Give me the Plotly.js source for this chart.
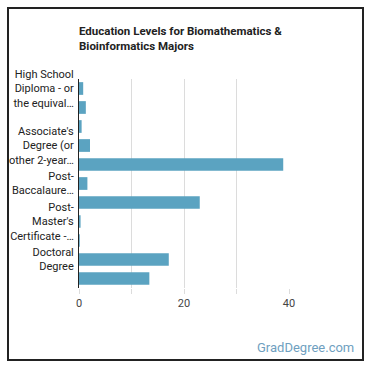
<!DOCTYPE html>
<html>
<head>
<meta charset="utf-8">
<script src="https://cdn.plot.ly/plotly-3.0.1.min.js"></script>
<style>
  html, body { margin: 0; padding: 0; background: #fff; }
  #frame { position: absolute; left: 7px; top: 7px; width: 353px; height: 350px; border: 2px solid #222; box-sizing: content-box; }
  #chart { position: absolute; left: 0; top: 0; width: 370px; height: 370px; }
</style>
</head>
<body>
<div id="frame"></div>
<div id="chart"></div>
<script>
const categories = [
  "High School Diploma - or the equivalent (for example, GED)",
  "Post-Secondary Certificate - awarded for training completed after high school",
  "Some College Courses",
  "Associate's Degree (or other 2-year degree)",
  "Bachelor's Degree",
  "Post-Baccalaureate Certificate - awarded for completion of an organized program of study",
  "Master's Degree",
  "Post-Master's Certificate - awarded for completion of an organized program of study",
  "First Professional Degree",
  "Doctoral Degree",
  "Post-Doctoral Training"
];
const percentages = [0.8, 1.3, 0.5, 2.1, 38.9, 1.6, 23.0, 0.3, 0.15, 17.1, 13.4];

const shownLabelIndex = [0, 3, 5, 7, 9];
const shownLabelText = [
  "High School<br>Diploma - or<br>the equival…",
  "Associate's<br>Degree (or<br>other 2-year…",
  "Post-<br>Baccalaure…",
  "Post-<br>Master's<br>Certificate -…",
  "Doctoral<br>Degree"
];
const xTickVals = [0, 10, 20, 30, 40];
const xTickText = ["0", "", "20", "", "40"];

const trace = {
  type: 'bar',
  orientation: 'h',
  x: percentages,
  y: categories,
  marker: { color: '#5ba3c1' },
  hoverinfo: 'x+y'
};

const layout = {
  width: 370,
  height: 370,
  margin: { l: 79, r: 81, t: 79, b: 82 },
  paper_bgcolor: 'rgba(0,0,0,0)',
  plot_bgcolor: 'rgba(0,0,0,0)',
  font: { family: 'Roboto, "Open Sans", sans-serif', size: 11, color: '#333' },
  bargap: 0.33,
  showlegend: false,
  title: {
    text: '<b>Education Levels for Biomathematics &<br>Bioinformatics Majors</b>',
    x: 0, xref: 'paper', xanchor: 'left',
    y: 0.905, yref: 'container', yanchor: 'top',
    font: { family: 'Roboto, sans-serif', size: 11.5, color: '#222' }
  },
  xaxis: {
    range: [0, 40],
    tickmode: 'array',
    tickvals: xTickVals,
    ticktext: xTickText,
    showgrid: true,
    gridcolor: '#dcdcdc',
    gridwidth: 1,
    zeroline: false,
    ticks: 'outside',
    ticklen: 5,
    tickcolor: '#dcdcdc',
    tickfont: { size: 11, color: '#444' },
    fixedrange: true
  },
  yaxis: {
    type: 'category',
    autorange: 'reversed',
    tickmode: 'array',
    tickvals: shownLabelIndex.map(i => categories[i]),
    ticktext: shownLabelText,
    showline: true,
    linecolor: '#222',
    linewidth: 1,
    showgrid: false,
    ticks: '',
    ticklabelstandoff: 2,
    tickfont: { size: 11, color: '#222' },
    fixedrange: true
  },
  annotations: [{
    text: 'GradDegree.com',
    xref: 'paper', yref: 'paper',
    x: 1.318, y: -0.285,
    xanchor: 'right', yanchor: 'middle',
    showarrow: false,
    font: { family: 'Roboto, sans-serif', size: 13, color: '#6f9fbf' }
  }]
};

Plotly.newPlot('chart', [trace], layout, { displayModeBar: false, staticPlot: true });
</script>
</body>
</html>
